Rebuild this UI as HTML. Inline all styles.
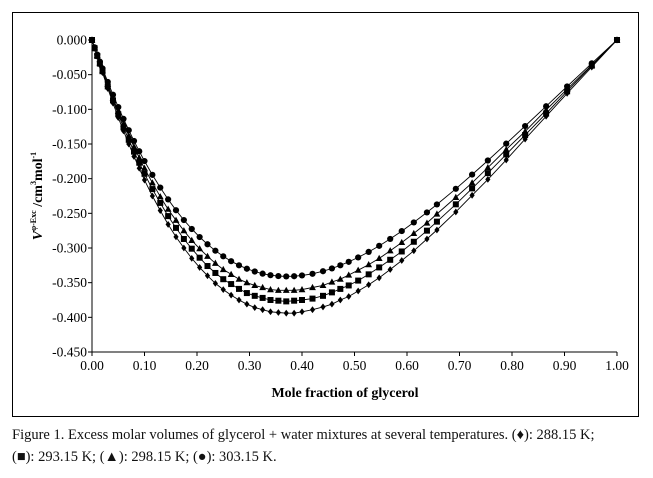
<!DOCTYPE html>
<html><head><meta charset="utf-8">
<style>
html,body{margin:0;padding:0;background:#fff;}
body{width:653px;height:478px;overflow:hidden;position:relative;font-family:"Liberation Serif",serif;}
#frame{position:absolute;left:12px;top:12px;width:627px;height:405px;border:1.5px solid #000;box-sizing:border-box;}
.cap{position:absolute;left:12px;font-size:14.5px;color:#111;white-space:nowrap;}
</style></head>
<body>
<div id="frame"></div>
<svg id="chart" width="653" height="478" style="position:absolute;left:0;top:0">
<g id="axes"></g><g id="series"></g>
<text x="345" y="397" text-anchor="middle" font-size="14" font-weight="bold" font-family="Liberation Serif, serif">Mole fraction of glycerol</text>
<text transform="translate(42,196) rotate(-90)" text-anchor="middle" font-size="14" font-weight="bold" font-family="Liberation Serif, serif"><tspan font-style="italic">V</tspan><tspan font-size="8" dy="-6">φ-Exc</tspan><tspan dy="6"> /cm</tspan><tspan font-size="8" dy="-6">3</tspan><tspan dy="6">mol</tspan><tspan font-size="8" dy="-6">-1</tspan></text>
</svg>
<div class="cap" style="top:427px">Figure 1. Excess molar volumes of glycerol + water mixtures at several temperatures. (♦): 288.15 K;</div>
<div class="cap" style="top:449px">(■): 293.15 K; (▲): 298.15 K; (●): 303.15 K.</div>
<script>
const xVals=[0,0.005,0.01,0.015,0.02,0.03,0.04,0.05,0.06,0.07,0.08,0.09,0.10,0.115,0.13,0.145,0.16,0.175,0.19,0.205,0.22,0.235,0.25,0.265,0.28,0.295,0.31,0.325,0.34,0.355,0.37,0.385,0.40,0.42,0.44,0.457,0.473,0.489,0.507,0.527,0.547,0.568,0.59,0.613,0.638,0.657,0.693,0.724,0.754,0.789,0.825,0.865,0.905,0.952,1.0];
const v303=[0,-.0106,-.0210,-.0312,-.0411,-.0605,-.0790,-.0968,-.1138,-.1301,-.1456,-.1605,-.1746,-.1945,-.2129,-.2299,-.2455,-.2597,-.2726,-.2842,-.2946,-.3039,-.3120,-.3190,-.3250,-.3299,-.3339,-.3370,-.3392,-.3405,-.3410,-.3407,-.3396,-.3372,-.3335,-.3295,-.3250,-.3200,-.3136,-.3056,-.2969,-.2869,-.2756,-.2631,-.2487,-.2372,-.2146,-.1941,-.1738,-.1495,-.1241,-.0956,-.0670,-.0336,0];
const v298=[0,-.011,-.022,-.033,-.044,-.064,-.084,-.103,-.121,-.138,-.154,-.170,-.185,-.206,-.226,-.244,-.260,-.275,-.289,-.301,-.312,-.322,-.331,-.338,-.345,-.350,-.354,-.357,-.360,-.361,-.361,-.361,-.360,-.357,-.354,-.349,-.345,-.339,-.332,-.324,-.315,-.304,-.292,-.279,-.264,-.251,-.227,-.206,-.184,-.158,-.132,-.101,-.071,-.036,0];
const v293=[0,-.012,-.023,-.034,-.045,-.067,-.087,-.107,-.126,-.144,-.161,-.177,-.193,-.215,-.235,-.254,-.271,-.287,-.301,-.314,-.326,-.336,-.345,-.352,-.359,-.365,-.369,-.372,-.375,-.376,-.377,-.376,-.375,-.373,-.369,-.364,-.359,-.354,-.347,-.338,-.328,-.317,-.305,-.291,-.275,-.262,-.237,-.214,-.192,-.165,-.137,-.106,-.074,-.037,0];
const v288=[0,-.012,-.024,-.036,-.047,-.070,-.091,-.112,-.131,-.150,-.168,-.185,-.202,-.225,-.246,-.266,-.284,-.300,-.315,-.328,-.340,-.351,-.360,-.368,-.375,-.381,-.386,-.389,-.392,-.393,-.394,-.394,-.392,-.389,-.385,-.381,-.375,-.370,-.362,-.353,-.343,-.331,-.318,-.304,-.287,-.274,-.248,-.224,-.201,-.173,-.143,-.110,-.077,-.039,0];
const xTicks=[0,0.1,0.2,0.3,0.4,0.5,0.6,0.7,0.8,0.9,1.0];
const yTicks=[0,-0.05,-0.1,-0.15,-0.2,-0.25,-0.3,-0.35,-0.4,-0.45];

const NS='http://www.w3.org/2000/svg';
const X0=92,X1=617,Y0=40,Y1=352;
function sx(v){return X0+(v-0)/(1-0)*(X1-X0);}
function sy(v){return Y0+(0-v)/(0.45)*(Y1-Y0);}
function mk(tag,attrs,parent){const e=document.createElementNS(NS,tag);for(const k in attrs)e.setAttribute(k,attrs[k]);parent.appendChild(e);return e;}
const axes=document.getElementById('axes');
let a=mk('line',{x1:X0,y1:Y0,x2:X0,y2:Y1,stroke:'#000','stroke-width':1},axes);


a=mk('line',{x1:X0,y1:Y1,x2:X1,y2:Y1,stroke:'#000','stroke-width':1},axes);


yTicks.forEach(v=>{
  const y=sy(v);
  mk('line',{x1:X0-4,y1:y,x2:X0,y2:y,stroke:'#000','stroke-width':1},axes);
  const t=mk('text',{x:X0-5,y:y+4.5,'text-anchor':'end','font-size':13.5,'font-family':'Liberation Serif, serif'},axes);
  t.textContent=v===0?'0.000':v.toFixed(3);
  
  
});
xTicks.forEach(v=>{
  const x=sx(v);
  mk('line',{x1:x,y1:Y1,x2:x,y2:Y1+4,stroke:'#000','stroke-width':1},axes);
  const t=mk('text',{x:x,y:Y1+18,'text-anchor':'middle','font-size':13.5,'font-family':'Liberation Serif, serif'},axes);
  t.textContent=v.toFixed(2);
  
  
});
const ser=document.getElementById('series');
function drawSeries(vals,shape,name){
  const g=mk('g',{},ser);
  
  
  const pts=xVals.map((x,i)=>sx(x).toFixed(1)+','+sy(vals[i]).toFixed(1)).join(' ');
  mk('polyline',{points:pts,fill:'none',stroke:'#000','stroke-width':0.9},g);
  xVals.forEach((x,i)=>{
    const px=sx(x),py=sy(vals[i]);let m;
    if(shape==='circle')m=mk('circle',{cx:px,cy:py,r:3.1,fill:'#000'},g);
    else if(shape==='square')m=mk('rect',{x:px-3,y:py-3,width:6,height:6,fill:'#000'},g);
    else if(shape==='triangle')m=mk('polygon',{points:`${px},${py-3.6} ${px-3.4},${py+2.6} ${px+3.4},${py+2.6}`,fill:'#000'},g);
    else m=mk('polygon',{points:`${px},${py-3.4} ${px+2.6},${py} ${px},${py+3.4} ${px-2.6},${py}`,fill:'#000'},g);
    
    
  });
}
drawSeries(v288,'diamond','series-288k');
drawSeries(v293,'square','series-293k');
drawSeries(v298,'triangle','series-298k');
drawSeries(v303,'circle','series-303k');
</script>
</body></html>
